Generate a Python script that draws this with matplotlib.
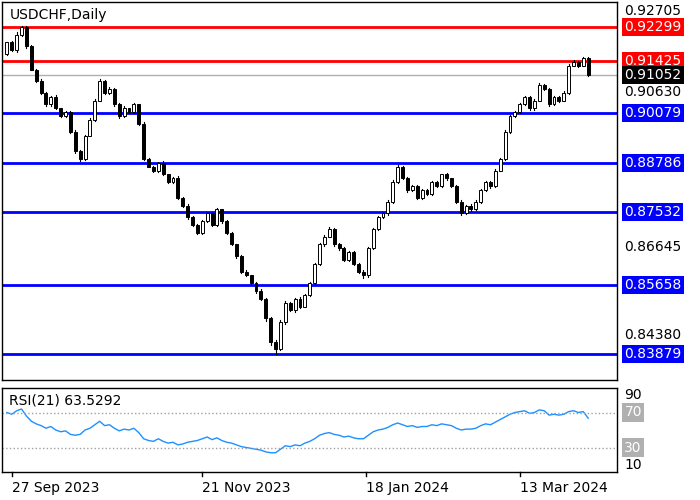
"""USDCHF daily candles with support/resistance levels and RSI(21) panel."""

import matplotlib

matplotlib.use("Agg")

import matplotlib.pyplot as plt  # noqa: E402
from matplotlib.patches import Rectangle  # noqa: E402

closes = [
    91900, 91700, 92100, 92300, 91800, 91200, 90900, 90600, 90300, 90500,
    90200, 90000, 90100, 89600, 89100, 88900, 89500, 89900, 90400, 90900,
    90600, 90700, 90300, 90000, 90200, 90100, 90300, 89800, 88900, 88700,
    88600, 88800, 88500, 88300, 88400, 87900, 87700, 87400, 87200, 87000,
    87300, 87500, 87200, 87600, 87300, 87000, 86700, 86400, 86000, 85900,
    85700, 85500, 85300, 84800, 84200, 84000, 84700, 85200, 85000, 85300,
    85100, 85400, 85700, 86200, 86700, 86900, 87100, 86700, 86600, 86300,
    86500, 86200, 86000, 85900, 86600, 87100, 87400, 87500, 87800, 88300,
    88700, 88400, 88100, 88200, 87900, 88100, 88000, 88300, 88200, 88500,
    88400, 88200, 87800, 87500, 87700, 87600, 87800, 88100, 88300, 88200,
    88600, 88900, 89600, 90000, 90100, 90300, 90500, 90200, 90400, 90800,
    90700, 90300, 90500, 90400, 90600, 91300, 91400, 91300, 91500, 91052,
]
first_open = 91600
wick_up = [
    20, 40, 60, 30, 20, 30, 20, 50, 20, 30, 40, 20, 30, 20, 40, 30, 20, 40, 50, 60,
    30, 40, 20, 30, 50, 20, 30, 20, 40, 30, 20, 30, 40, 20, 30, 50, 20, 30, 40, 20,
    30, 40, 20, 30, 20, 40, 30, 20, 30, 40, 20, 30, 40, 30, 20, 30, 50, 40, 30, 20,
    40, 30, 20, 30, 40, 30, 50, 20, 30, 40, 20, 30, 20, 30, 40, 30, 20, 30, 40, 60,
    30, 20, 40, 30, 20, 30, 20, 40, 30, 20, 30, 20, 40, 30, 20, 30, 40, 20, 30, 20,
    40, 30, 50, 20, 30, 40, 30, 20, 30, 40, 20, 30, 20, 30, 40, 30, 40, 20, 30, 20,
]
wick_dn = [
    30, 20, 40, 30, 50, 20, 30, 20, 40, 30, 20, 30, 20, 40, 60, 50, 30, 20, 30, 20,
    40, 20, 30, 40, 20, 30, 20, 30, 40, 20, 30, 40, 20, 30, 20, 40, 30, 50, 20, 30,
    40, 20, 30, 20, 40, 30, 20, 40, 30, 20, 30, 40, 20, 60, 80, 110, 30, 40, 20, 30,
    40, 20, 30, 20, 40, 30, 20, 30, 40, 20, 30, 20, 40, 70, 30, 20, 30, 20, 40, 30,
    20, 30, 40, 20, 30, 20, 40, 30, 20, 30, 40, 20, 30, 40, 20, 30, 20, 30, 20, 40,
    30, 20, 30, 40, 20, 30, 20, 30, 40, 20, 30, 40, 20, 30, 20, 30, 20, 30, 20, 30,
]
rsi = [
    70, 68, 72, 74, 66, 60, 57, 55, 52, 54, 50, 48, 49, 45, 44, 45, 50, 52, 56, 60,
    55, 56, 52, 49, 51, 50, 52, 47, 40, 38, 37, 40, 37, 35, 36, 33, 34, 36, 37, 38,
    40, 42, 39, 41, 38, 36, 35, 33, 31, 30, 29, 28, 27, 25, 24, 24, 28, 32, 31, 33,
    32, 35, 37, 40, 44, 46, 47, 45, 44, 42, 43, 41, 40, 40, 44, 48, 50, 51, 53, 56,
    58, 56, 54, 55, 53, 54, 54, 56, 55, 57, 56, 55, 52, 50, 51, 51, 52, 55, 57, 56,
    59, 62, 65, 68, 70, 71, 72, 69, 70, 73, 72, 67, 68, 67, 68, 71, 72, 70, 71, 63.5292,
]
red_levels = [0.92299, 0.91425]
blue_levels = [0.90079, 0.88786, 0.87532, 0.85658, 0.83879]
plain_ticks = [0.92705, 0.90630, 0.86645, 0.84380]
last_price = 0.91052
date_labels = ["27 Sep 2023", "21 Nov 2023", "18 Jan 2024", "13 Mar 2024"]
date_idx = [1, 40, 73.5, 105]

W, H = 700, 500
fig = plt.figure(figsize=(7, 5), dpi=100)
ax = fig.add_axes([2 / W, 1 - 380 / H, 615 / W, 378 / H])
ax2 = fig.add_axes([2 / W, 1 - 472 / H, 615 / W, 84 / H])

for a in (ax, ax2):
    a.set_xticks([])
    a.set_yticks([])
    for s in a.spines.values():
        s.set_color("black")
        s.set_linewidth(1)

prev = first_open
for i, c in enumerate(closes):
    o = prev / 1e5
    cl = c / 1e5
    hi = max(o, cl) + wick_up[i] / 1e5
    lo = min(o, cl) - wick_dn[i] / 1e5
    ax.plot([i, i], [lo, hi], color="black", lw=0.8, zorder=2)
    ax.add_patch(Rectangle((i - 0.3, min(o, cl)), 0.6, max(abs(cl - o), 1e-5),
                           facecolor="white" if cl >= o else "black",
                           edgecolor="black", lw=0.7, zorder=3))
    prev = c

ax.set_xlim(-1, 124.9)
ax.set_ylim(0.83210, 0.92937)

for lv in red_levels:
    ax.axhline(lv, color="red", lw=2, zorder=1)
for lv in blue_levels:
    ax.axhline(lv, color="blue", lw=2, zorder=1)
ax.axhline(last_price, color="#b0b0b0", lw=1, zorder=1)

fs = 10
tx = 1.012
for lv in plain_ticks:
    ax.text(tx, lv, f"{lv:.5f}", transform=ax.get_yaxis_transform(), va="center",
            ha="left", fontsize=fs, clip_on=False)
for lv in red_levels + blue_levels + [last_price]:
    col = "red" if lv in red_levels else ("blue" if lv in blue_levels else "black")
    ax.text(tx, lv, f"{lv:.5f}", transform=ax.get_yaxis_transform(), va="center",
            ha="left", fontsize=fs, color="white", clip_on=False,
            bbox=dict(facecolor=col, edgecolor="none", pad=1.5))
ax.text(0.012, 0.985, "USDCHF,Daily", transform=ax.transAxes, va="top", fontsize=fs)

ax2.plot(range(len(rsi)), rsi, color="#1e90ff", lw=1)
ax2.set_xlim(-1, 124.9)
ax2.set_ylim(2, 98)
for lv in (70, 30):
    ax2.axhline(lv, color="#a0a0a0", lw=1, ls=":")
ax2.text(0.012, 0.93, f"RSI(21) {rsi[-1]:.4f}", transform=ax2.transAxes,
         va="top", fontsize=fs)
for lv in (90, 10):
    ax2.text(tx, lv, str(lv), transform=ax2.get_yaxis_transform(), va="center",
             ha="left", fontsize=fs, clip_on=False)
for lv in (70, 30):
    ax2.text(tx, lv, str(lv), transform=ax2.get_yaxis_transform(), va="center",
             ha="left", fontsize=fs, color="white", clip_on=False,
             bbox=dict(facecolor="#b0b0b0", edgecolor="none", pad=1.5))

for lab, i in zip(date_labels, date_idx):
    ax2.plot([i, i], [2, -3], color="black", lw=1, clip_on=False)
    ax2.text(i, -8, lab, transform=ax2.transData, ha="left", va="top",
             fontsize=fs, clip_on=False)

fig.savefig("out.png", dpi=100, facecolor="white")
